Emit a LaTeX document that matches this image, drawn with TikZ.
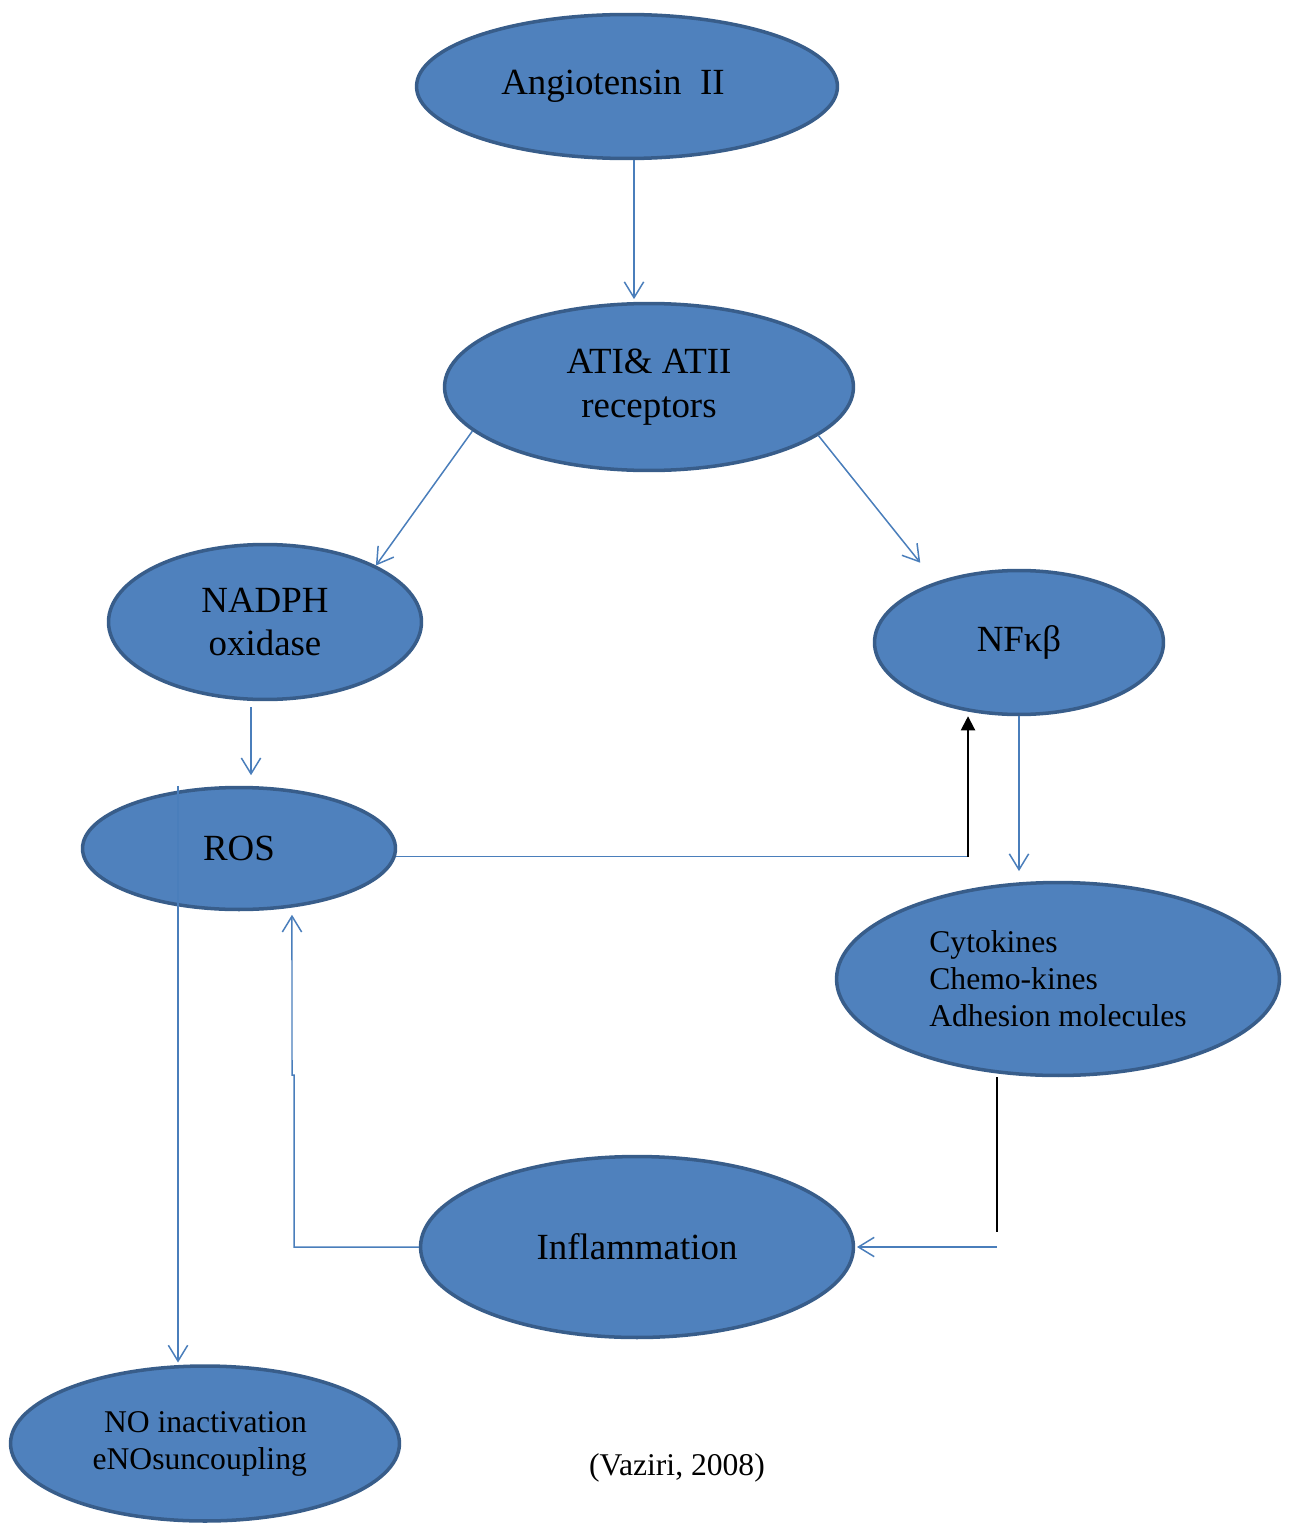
\documentclass[tikz,border=0pt]{standalone}
\usepackage{fontspec}
\setmainfont{Liberation Serif}
\usepackage{tikz}
\usetikzlibrary{shapes,arrows,positioning,calc,arrows.meta}

\definecolor{boxblue}{HTML}{4F81BD}
\definecolor{rimblue}{HTML}{385D8A}
\definecolor{lineblue}{HTML}{4A7EBB}

\begin{document}
\begin{tikzpicture}[x=0.02cm,y=-0.02cm,
    blob/.style={ellipse,draw=rimblue,line width=2pt,fill=boxblue,inner sep=0pt,align=center,font=\fontsize{21}{25}\selectfont},
    smallblob/.style={blob,font=\fontsize{18}{21}\selectfont},
    flow/.style={draw=lineblue,line width=0.85pt,-{Straight Barb[length=9pt,width=11pt]}},
    fback/.style={draw=black,line width=1.1pt,-{Triangle[length=8pt,width=8pt]}},
    blackline/.style={draw=black,line width=1.1pt}]
    \useasboundingbox (0,0) rectangle (1289,1524);
    % Ellipses
    \node[blob,minimum width=8.42cm,minimum height=2.88cm] (ang) at (627,86.5) {Angiotensin\ \ II\hspace*{16pt}};
    \node[blob,minimum width=8.18cm,minimum height=3.34cm] (ati) at (649,387) {ATI\& ATII\\receptors};
    \node[blob,minimum width=6.26cm,minimum height=3.1cm] (nad) at (265,622) {NADPH\\oxidase};
    \node[blob,minimum width=5.78cm,minimum height=2.88cm] (nf) at (1019,642.5) {NFκβ};
    \node[blob,minimum width=6.26cm,minimum height=2.44cm] (ros) at (239,848.5) {ROS};
    \node[smallblob,align=left,minimum width=8.86cm,minimum height=3.86cm] (cyt) at (1058,979) {Cytokines\\Chemo-kines\\Adhesion molecules};
    \node[blob,minimum width=8.66cm,minimum height=3.62cm] (infl) at (637,1247) {Inflammation};
    \node[smallblob,align=right,minimum width=7.78cm,minimum height=3.1cm] (no) at (205,1443.5) {NO inactivation\hspace*{6pt}\\eNOsuncoupling\hspace*{6pt}};
    \node[font=\fontsize{18}{21}\selectfont] (src) at (677,1468) {(Vaziri, 2008)};
    % Connector ends
    \coordinate (angout) at ([xshift=0.14cm]ang.south);
    \coordinate (nadout) at ([xshift=-0.28cm]nad.south);
    \coordinate (nfin) at ([xshift=-1.02cm]nf.south);
    \coordinate (cytdn) at ([xshift=-1.22cm]cyt.south);
    \coordinate (rosin) at ([xshift=1.06cm]ros.south);
    \coordinate (rosout) at ([xshift=-1.22cm]ros.north);
    \coordinate (jog) at (294,1075);
    % Arrows
    \draw[flow,shorten >=1.5pt] (angout) -- (angout |- ati.north);
    \draw[flow] (ati.194.5) -- (nad.27);
    \draw[flow,shorten >=14pt] (ati.-16) -- (nf.144);
    \draw[flow,shorten <=3.5pt,shorten >=6pt] (nadout) -- (nadout |- ros.north);
    \draw[flow,-] (ros.-3) -- (ros.-3 -| nfin) coordinate (bend);
    \draw[fback] (bend) -- (nfin);
    \draw[flow,shorten >=5.5pt] (nf.south) -- (nf.south |- cyt.north);
    \draw[blackline] (cytdn) -- ([yshift=0.3cm]cytdn |- infl.east);
    \draw[flow,shorten >=1pt] (cytdn |- infl.east) -- (infl.east);
    \draw[flow,shorten >=2pt] (infl.west) -| (jog) -- ++(-2,0) -- (rosin);
    \draw[flow,shorten >=1pt] (rosout) -- (rosout |- no.north);
\end{tikzpicture}
\end{document}
